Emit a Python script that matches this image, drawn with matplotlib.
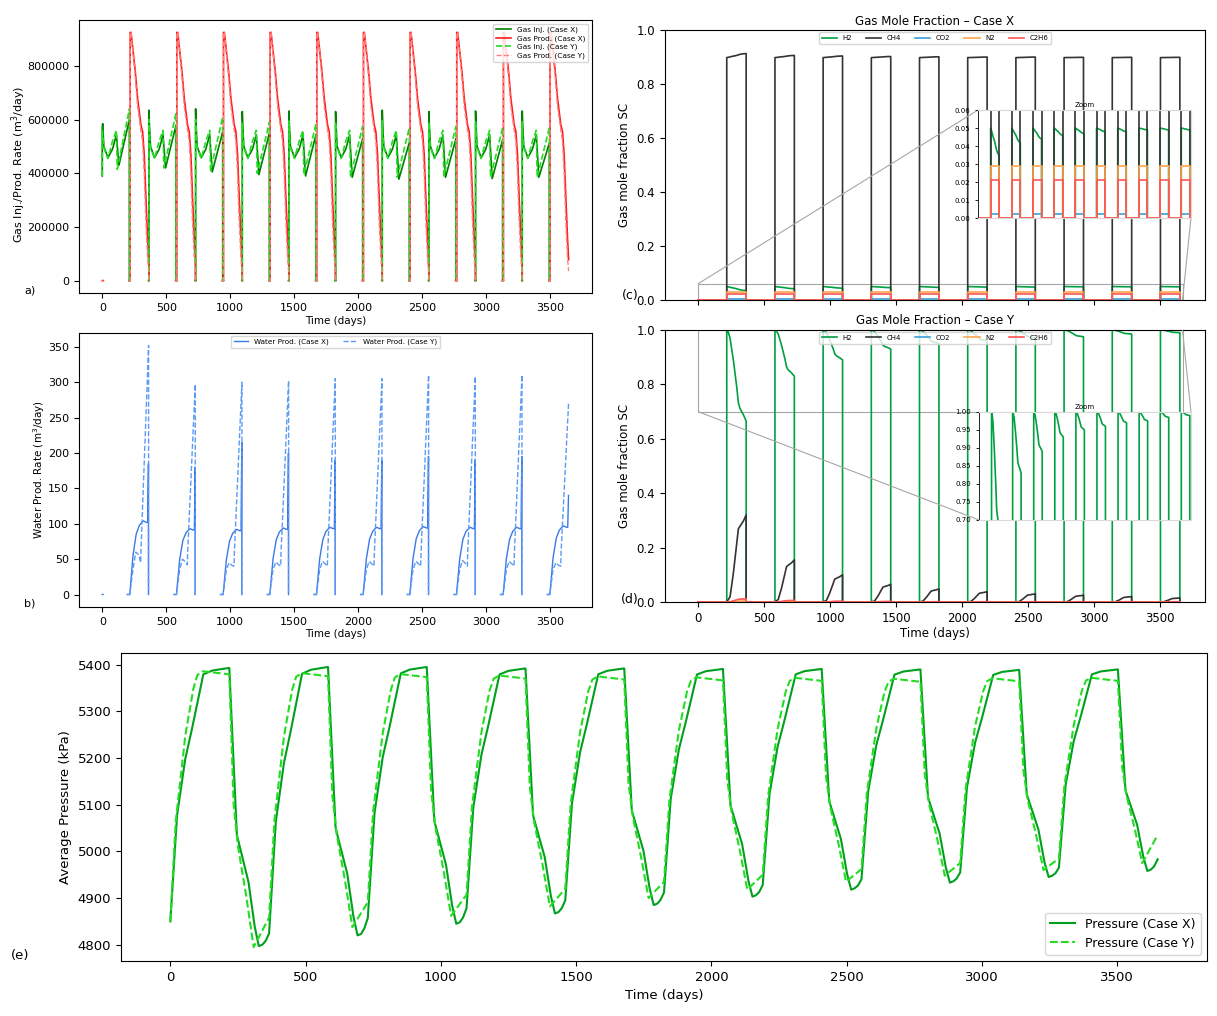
import numpy as np
import matplotlib
matplotlib.use("Agg")
import matplotlib.pyplot as plt
from mpl_toolkits.axes_grid1.inset_locator import mark_inset

# cycle timing (days)
cycle_starts = [0, 365, 730, 1095, 1460, 1825, 2190, 2555, 2920, 3285]
cycle_len = 365
prod_start = 218
last_day = 3650

# ---- (a) gas injection / production rate (m3/day) ----
# injection shape within a cycle (days after cycle start)
inj_mid_days = [3, 12, 44, 80, 110]
inj_x_mid = [585000, 500000, 458000, 490000, 543000]
inj_y_mid = [545000, 495000, 455000, 520000, 560000]
inj_x_low_day, inj_y_low_day = 130, 117
inj_x_peak = [570000, 635000, 640000, 630000, 632000, 630000, 635000, 630000, 632000, 632000]
inj_y_peak = [560000, 600000, 600000, 590000, 595000, 590000, 595000, 590000, 592000, 592000]
inj_x_low = [430000, 420000, 405000, 395000, 390000, 385000, 378000, 385000, 380000, 385000]
inj_y_low = [415000, 420000, 410000, 400000, 395000, 390000, 385000, 390000, 385000, 385000]
inj_x_end = [600000, 580000, 555000, 550000, 545000, 530000, 515000, 530000, 525000, 512000]
inj_y_end = [640000, 625000, 610000, 590000, 585000, 575000, 570000, 575000, 570000, 570000]
inj_first = 390000

# production shape (days after production start)
prod_days = [0, 7, 40, 58, 84, 97, 110, 123, 137]
prod_x_vals = [925000, 925000, 780000, 680000, 580000, 556000, 470000, 310000, 150000]
prod_y_vals = [925000, 925000, 760000, 650000, 560000, 520000, 400000, 220000, 80000]
prod_x_end = [60000, 75000, 45000, 55000, 50000, 45000, 45000, 45000, 45000, 78000]
prod_y_end = [30000, 35000, 30000, 30000, 30000, 30000, 30000, 30000, 30000, 35000]

# ---- (b) water production rate (m3/day) ----
water_x_days = [195, 215, 240, 265, 290, 320, 345, 355]
water_x_frac = [0, 0, 0.53, 0.82, 0.94, 1.0, 0.98, 0.98]
water_x_plateau = [104, 93, 92, 94, 95, 95, 96, 95, 95, 97]
water_x_spike = [185, 180, 215, 200, 190, 190, 195, 190, 195, 140]
water_y_bump = [60, 50, 45, 46, 47, 47, 47, 48, 47, 45]
water_y_dip = [45, 42, 40, 40, 40, 40, 40, 40, 40, 40]
water_y_peak = [352, 297, 300, 302, 305, 305, 310, 308, 310, 272]

# ---- (c) gas mole fraction, Case X (production periods) ----
mf_days = [0, 15, 40, 70, 100, 125, 147]
mf_frac = [0, 0.1, 0.3, 0.5, 0.8, 0.95, 1.0]
h2_x_end = [0.035, 0.042, 0.044, 0.046, 0.047, 0.048, 0.048, 0.049, 0.049, 0.049]
ch4_x_end = [0.913, 0.906, 0.904, 0.902, 0.901, 0.900, 0.900, 0.899, 0.899, 0.899]
h2_x_start, ch4_x_start = 0.050, 0.898
co2_x, n2_x, c2h6_x = 0.002, 0.029, 0.021

# ---- (d) gas mole fraction, Case Y ----
h2y_days = [0, 10, 25, 50, 76, 88, 100, 126, 147]
h2y_frac = [0, 0.015, 0.09, 0.33, 0.63, 0.8, 0.86, 0.93, 1.0]
h2_y_end = [0.665, 0.83, 0.89, 0.93, 0.95, 0.96, 0.97, 0.975, 0.985, 0.99]
ch4y_days = [0, 25, 50, 88, 100, 126, 147]
ch4y_frac = [0, 0.06, 0.33, 0.84, 0.87, 0.93, 1.0]
ch4_y_end = [0.32, 0.155, 0.10, 0.065, 0.048, 0.038, 0.03, 0.025, 0.02, 0.015]
c2h6_y_end = [0.012, 0.006, 0.003, 0.002, 0.001, 0.001, 0.001, 0.001, 0.001, 0.001]
n2_y_end = [0.004, 0.002, 0.001, 0.001, 0, 0, 0, 0, 0, 0]

# ---- (e) average pressure (kPa) ----
px_rise_days = [0, 25, 55, 80, 122, 155, 215]
px_rise_frac = [0, 0.42, 0.64, 0.76, 0.975, 0.99, 1.0]
px_fall_days = [218, 246, 289, 312, 327]
px_fall_frac = [0, 0.6, 0.77, 0.93, 1.0]
py_rise_days = [0, 20, 55, 85, 100, 120]
py_rise_frac = [0, 0.4, 0.74, 0.93, 0.985, 1.0]
py_fall_days = [218, 234, 250, 280, 308]
py_fall_frac = [0, 0.475, 0.63, 0.81, 1.0]
p_first = 4850
px_max = [5393, 5395, 5395, 5392, 5392, 5391, 5391, 5390, 5389, 5390]
px_min = [4797, 4820, 4845, 4867, 4885, 4903, 4918, 4933, 4945, 4958]
px_end = [4824, 4857, 4878, 4895, 4912, 4928, 4940, 4955, 4965, 4983]
py_max = [5386, 5382, 5380, 5377, 5375, 5373, 5372, 5370, 5371, 5372]
py_min = [4795, 4838, 4862, 4882, 4900, 4918, 4935, 4948, 4960, 4975]
py_end = [4858, 4891, 4907, 4920, 4935, 4950, 4962, 4975, 4985, 5035]

NC = len(cycle_starts)


def inj_series(peaks, mid_vals, low_day, lows, ends):
    t, v = [], []
    for k, s in enumerate(cycle_starts):
        if k == 0:
            t += [s, s]; v += [inj_first, peaks[k]]
        else:
            t += [s - 4, s, s]; v += [0, 0, peaks[k]]
        t += [s + d for d in inj_mid_days]; v += mid_vals
        t += [s + low_day, s + 212, s + 212, s + prod_start]
        v += [lows[k], ends[k], 0, 0]
        t.append(np.nan); v.append(np.nan)
    return t, v


def prod_series(vals, ends):
    t, v = [0, 8, np.nan], [0, 0, np.nan]
    for k, s in enumerate(cycle_starts):
        p = s + prod_start
        t += [p - 10, p] + [p + d for d in prod_days]
        v += [0, 0] + vals
        e = min(s + 364, last_day - 2)
        t.append(e); v.append(ends[k])
        if k < NC - 1:
            t += [e, e + 3]; v += [0, 0]
        t.append(np.nan); v.append(np.nan)
    return t, v


def water_x_series():
    t, v = [0, 6, np.nan], [0, 0, np.nan]
    for k, s in enumerate(cycle_starts):
        t += [s + d for d in water_x_days]
        v += [f * water_x_plateau[k] for f in water_x_frac]
        t.append(s + 361); v.append(water_x_spike[k])
        if k < NC - 1:
            t.append(s + 361); v.append(0)
        t.append(np.nan); v.append(np.nan)
    return t, v


def water_y_series():
    t, v = [], []
    for k, s in enumerate(cycle_starts):
        t += [s + d for d in [195, 215, 240, 262, 285, 300, 303, 362]]
        v += [0, 0, 35, water_y_bump[k], water_y_bump[k] - 4, water_y_dip[k],
              water_y_dip[k] + 20, water_y_peak[k]]
        if k < NC - 1:
            t.append(s + 362); v.append(0)
        t.append(np.nan); v.append(np.nan)
    return t, v


def frac_series(days, fracs, starts, ends):
    t, v = [], []
    for k, s in enumerate(cycle_starts):
        p = s + prod_start
        t += [s, p, p]; v += [0, 0, starts[k]]
        for d, f in zip(days[1:], fracs[1:]):
            t.append(p + d); v.append(starts[k] + f * (ends[k] - starts[k]))
        t.append(p + days[-1]); v.append(0)
    return t, v


def pressure_x():
    t, v = [], []
    start = p_first
    for k, s in enumerate(cycle_starts):
        t += [s + d for d in px_rise_days]
        v += [start + f * (px_max[k] - start) for f in px_rise_frac]
        t += [s + d for d in px_fall_days]
        v += [px_max[k] - f * (px_max[k] - px_min[k]) for f in px_fall_frac]
        t += [s + 340, s + 352, s + 365]
        v += [px_min[k] + 3, px_min[k] + 0.4 * (px_end[k] - px_min[k]), px_end[k]]
        start = px_end[k]
    return t, v


def pressure_y():
    t, v = [], []
    start = p_first
    for k, s in enumerate(cycle_starts):
        t += [s + d for d in py_rise_days]
        v += [start + f * (py_max[k] - start) for f in py_rise_frac]
        t += [s + 210]; v += [py_max[k] - 6]
        t += [s + d for d in py_fall_days]
        top = py_max[k] - 7
        v += [top - f * (top - py_min[k]) for f in py_fall_frac]
        t.append(s + 365); v.append(py_end[k])
        start = py_end[k]
    return t, v


fig = plt.figure(figsize=(12.17, 10.16), dpi=100)
plt.rcParams['font.size'] = 8

# ---------------- (a) ----------------
ax_a = fig.add_axes([0.0649, 0.7116, 0.4215, 0.2687])
t, v = inj_series(inj_x_peak, inj_x_mid, inj_x_low_day, inj_x_low, inj_x_end)
ax_a.plot(t, v, color='#008000', lw=1.2, label='Gas Inj. (Case X)')
t, v = prod_series(prod_x_vals, prod_x_end)
ax_a.plot(t, v, color='#ff1a1a', lw=1.2, label='Gas Prod. (Case X)')
t, v = inj_series(inj_y_peak, inj_y_mid, inj_y_low_day, inj_y_low, inj_y_end)
ax_a.plot(t, v, color='#22dd22', lw=1.2, ls='--', label='Gas Inj. (Case Y)')
t, v = prod_series(prod_y_vals, prod_y_end)
ax_a.plot(t, v, color='#ff8080', lw=1.0, ls='--', label='Gas Prod. (Case Y)')
ax_a.set_ylabel('Gas Inj./Prod. Rate (m$^3$/day)', fontsize=8)
ax_a.yaxis.set_label_coords(-0.1, 0.47)
ax_a.set_xlabel('Time (days)', fontsize=7.5, labelpad=2)
ax_a.set_xticks([0, 500, 1000, 1500, 2000, 2500, 3000, 3500])
ax_a.tick_params(labelsize=8)
ax_a.legend(loc='upper right', fontsize=5.3, labelspacing=0.25)

# ---------------- (b) ----------------
ax_b = fig.add_axes([0.0649, 0.4026, 0.4215, 0.2697])
t, v = water_x_series()
ax_b.plot(t, v, color='#3b78e7', lw=1.0, label='Water Prod. (Case X)')
t, v = water_y_series()
ax_b.plot(t, v, color='#5b9bf5', lw=1.0, ls='--', label='Water Prod. (Case Y)')
ax_b.set_ylabel('Water Prod. Rate (m$^3$/day)', fontsize=7.5, labelpad=1)
ax_b.set_xlabel('Time (days)', fontsize=7.5, labelpad=2)
ax_b.set_xticks([0, 500, 1000, 1500, 2000, 2500, 3000, 3500])
ax_b.set_yticks([0, 50, 100, 150, 200, 250, 300, 350])
ax_b.tick_params(labelsize=8)
ax_b.legend(loc='upper center', ncol=2, fontsize=5.2, borderaxespad=0.4)

# ---------------- (c) / (d) ----------------
comp_names = ['H2', 'CH4', 'CO2', 'N2', 'C2H6']
comp_colors = ['#00a040', '#333333', '#3b9fd8', '#ffa64d', '#ff5555']

series_c = [
    frac_series(mf_days, mf_frac, [h2_x_start] * NC, h2_x_end),
    frac_series(mf_days, mf_frac, [ch4_x_start] * NC, ch4_x_end),
    frac_series(mf_days, mf_frac, [co2_x] * NC, [co2_x] * NC),
    frac_series(mf_days, mf_frac, [n2_x] * NC, [n2_x] * NC),
    frac_series(mf_days, mf_frac, [c2h6_x] * NC, [c2h6_x] * NC),
]
series_d = [
    frac_series(h2y_days, h2y_frac, [1.0] * NC, h2_y_end),
    frac_series(ch4y_days, ch4y_frac, [0] * NC, ch4_y_end),
    frac_series(ch4y_days, ch4y_frac, [0] * NC, [0] * NC),
    frac_series(ch4y_days, ch4y_frac, [0] * NC, n2_y_end),
    frac_series(ch4y_days, ch4y_frac, [0] * NC, c2h6_y_end),
]

ax_c = fig.add_axes([0.5464, 0.7047, 0.4437, 0.2657])
ax_d = fig.add_axes([0.5464, 0.4075, 0.4437, 0.2677])
ins_c = fig.add_axes([0.8036, 0.7854, 0.1750, 0.1063])
ins_d = fig.add_axes([0.8044, 0.4882, 0.1742, 0.1063])

for ax, ins, series, case in [(ax_c, ins_c, series_c, 'X'), (ax_d, ins_d, series_d, 'Y')]:
    for (t, v), name, col in zip(series, comp_names, comp_colors):
        ax.plot(t, v, color=col, lw=1.2, label=name)
        ins.plot(t, v, color=col, lw=1.2)
    ax.set_xlim(-250, 3840)
    ax.set_ylim(0, 1.0)
    ax.set_xticks([0, 500, 1000, 1500, 2000, 2500, 3000, 3500])
    ax.set_yticks([0, 0.2, 0.4, 0.6, 0.8, 1.0])
    ax.tick_params(labelsize=8.5)
    ax.set_ylabel('Gas mole fraction SC', fontsize=8.5)
    ax.set_title('Gas Mole Fraction \u2013 Case ' + case, fontsize=8.5, pad=4)
    ax.legend(loc='upper center', ncol=5, fontsize=5, handlelength=2.2,
              columnspacing=2.0, borderaxespad=0.3)
    ins.set_xlim(0, 3670)
    ins.set_xticks([])
    ins.set_title('Zoom', fontsize=5, pad=2)
    ins.tick_params(labelsize=5, length=2, width=0.6)
    for sp in ['top', 'right', 'bottom']:
        ins.spines[sp].set_color('0.85')
    ins.spines['left'].set_linewidth(0.6)

ax_c.tick_params(labelbottom=False)
ax_d.set_xlabel('Time (days)', fontsize=8.5, labelpad=2)

ins_c.set_ylim(0, 0.06)
ins_c.set_yticks([0, 0.01, 0.02, 0.03, 0.04, 0.05, 0.06])
ins_c.set_yticklabels(['0.00', '0.01', '0.02', '0.03', '0.04', '0.05', '0.06'])
ins_d.set_ylim(0.70, 1.00)
ins_d.set_yticks([0.70, 0.75, 0.80, 0.85, 0.90, 0.95, 1.00])
ins_d.set_yticklabels(['0.70', '0.75', '0.80', '0.85', '0.90', '0.95', '1.00'])

mark_inset(ax_c, ins_c, loc1=2, loc2=4, fc='none', ec='0.65', lw=0.8)
mark_inset(ax_d, ins_d, loc1=3, loc2=1, fc='none', ec='0.65', lw=0.8)

# ---------------- (e) ----------------
ax_e = fig.add_axes([0.0994, 0.0541, 0.8924, 0.3031])
t, v = pressure_x()
ax_e.plot(t, v, color='#00a01e', lw=1.5, label='Pressure (Case X)')
t, v = pressure_y()
ax_e.plot(t, v, color='#22dd22', lw=1.5, ls='--', label='Pressure (Case Y)')
ax_e.set_ylabel('Average Pressure (kPa)', fontsize=9.5)
ax_e.set_xlabel('Time (days)', fontsize=9.5)
ax_e.set_xticks([0, 500, 1000, 1500, 2000, 2500, 3000, 3500])
ax_e.set_yticks([4800, 4900, 5000, 5100, 5200, 5300, 5400])
ax_e.tick_params(labelsize=9.5)
ax_e.legend(loc='lower right', fontsize=9)

# panel tags
fig.text(30 / 1217, 1 - 291 / 1016, 'a)', fontsize=8, ha='center', va='center')
fig.text(30 / 1217, 1 - 603 / 1016, 'b)', fontsize=8, ha='center', va='center')
fig.text(630 / 1217, 1 - 296 / 1016, '(c)', fontsize=9, ha='center', va='center')
fig.text(630 / 1217, 1 - 599 / 1016, '(d)', fontsize=9, ha='center', va='center')
fig.text(20 / 1217, 1 - 955 / 1016, '(e)', fontsize=9.5, ha='center', va='center')

fig.savefig('out.png', dpi=100)
